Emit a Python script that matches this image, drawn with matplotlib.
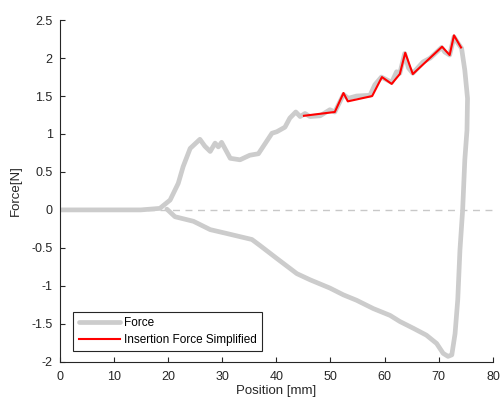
import matplotlib
matplotlib.use("Agg")
import matplotlib.pyplot as plt
from matplotlib.ticker import FuncFormatter

plt.rcParams['font.family'] = ['Liberation Sans', 'DejaVu Sans']

# Measured force along the insertion/retraction path
force_pos = [0.0, 5.0, 10.0, 15.0, 18.5, 20.4, 21.9, 22.8, 24.1, 24.7, 25.9, 26.8,
             27.8, 28.7, 29.3, 29.9, 31.5, 33.3, 35.1, 36.7, 39.2, 40.1, 41.6,
             42.5, 43.6, 44.4, 45.3, 46.2, 48.1, 49.9, 50.8, 52.4, 53.3, 54.8,
             57.3, 58.2, 59.4, 61.3, 62.2, 62.8, 63.7, 64.4, 65.2, 67.1, 68.4,
             70.5, 71.1, 72.0, 72.8, 73.6, 74.2, 74.8, 75.3, 75.2, 74.8, 74.4,
             73.9, 73.5, 73.0, 72.4, 71.7, 70.8, 69.6, 67.7, 65.3, 62.8, 61.0,
             57.9, 54.8, 52.4, 49.9, 46.2, 43.8, 40.1, 37.0, 35.5, 30.8, 27.8,
             24.7, 21.3, 19.8]
force_val = [0.0, 0.0, 0.0, 0.0, 0.02, 0.13, 0.35, 0.57, 0.81, 0.85, 0.93, 0.84,
             0.77, 0.88, 0.83, 0.89, 0.68, 0.66, 0.72, 0.74, 1.01, 1.03, 1.09,
             1.21, 1.29, 1.23, 1.27, 1.23, 1.24, 1.32, 1.29, 1.52, 1.47, 1.50,
             1.51, 1.65, 1.75, 1.68, 1.82, 1.80, 2.06, 1.87, 1.80, 1.95, 2.00,
             2.14, 2.08, 2.04, 2.28, 2.19, 2.13, 1.84, 1.47, 1.05, 0.66, 0.0,
             -0.53, -1.18, -1.63, -1.91, -1.93, -1.89, -1.76, -1.65, -1.56, -1.47, -1.39,
             -1.30, -1.19, -1.12, -1.03, -0.92, -0.84, -0.64, -0.47, -0.39, -0.31, -0.26,
             -0.15, -0.09, 0.01]

# Simplified insertion force (piecewise linear)
simp_pos = [45.1, 50.8, 52.4, 53.2, 57.7, 59.5, 61.3, 62.8, 63.8, 65.2, 70.6, 72.0, 72.8, 74.1]
simp_val = [1.24, 1.29, 1.54, 1.43, 1.50, 1.75, 1.66, 1.79, 2.07, 1.79, 2.15, 2.04, 2.30, 2.14]

x_ticks = [0, 10, 20, 30, 40, 50, 60, 70, 80]
y_ticks = [-2, -1.5, -1, -0.5, 0, 0.5, 1, 1.5, 2, 2.5]

fig = plt.figure(figsize=(5.01, 4.03), dpi=100)
ax = fig.add_axes([0.119, 0.1025, 0.865, 0.8475])

ax.axhline(0, color='#c8c8c8', linestyle=(0, (5, 4)), linewidth=1.0, zorder=1)
ax.plot(force_pos, force_val, color='#cccccc', linewidth=3.4,
        solid_joinstyle='round', solid_capstyle='round', label='Force', zorder=2)
ax.plot(simp_pos, simp_val, color='#ff0000', linewidth=1.5,
        label='Insertion Force Simplified', zorder=3)

ax.set_xlim(0, 80)
ax.set_ylim(-2, 2.5)
ax.set_xticks(x_ticks)
ax.set_yticks(y_ticks)
ax.yaxis.set_major_formatter(FuncFormatter(lambda v, p: ('%g' % v).replace('\u2212', '-')))

for s in ['top', 'right']:
    ax.spines[s].set_visible(False)
for s in ['left', 'bottom']:
    ax.spines[s].set_color('#262626')
    ax.spines[s].set_linewidth(0.8)
ax.tick_params(direction='in', length=3.5, width=0.8, colors='#262626',
               labelsize=9, pad=5)
ax.tick_params(axis='x', pad=7)

ax.set_xlabel('Position [mm]', fontsize=9.5, color='#262626', labelpad=1)
ax.set_ylabel('Force[N]', fontsize=9.5, color='#262626', labelpad=7)

leg = ax.legend(loc='lower left', bbox_to_anchor=(0.032, 0.03), fontsize=8.5,
                frameon=True, fancybox=False, framealpha=1, edgecolor='#262626',
                borderpad=0.45, handlelength=3.5, handletextpad=0.3, labelspacing=0.4,
                borderaxespad=0)
leg.get_frame().set_linewidth(0.8)

fig.savefig('out.png', dpi=100)
